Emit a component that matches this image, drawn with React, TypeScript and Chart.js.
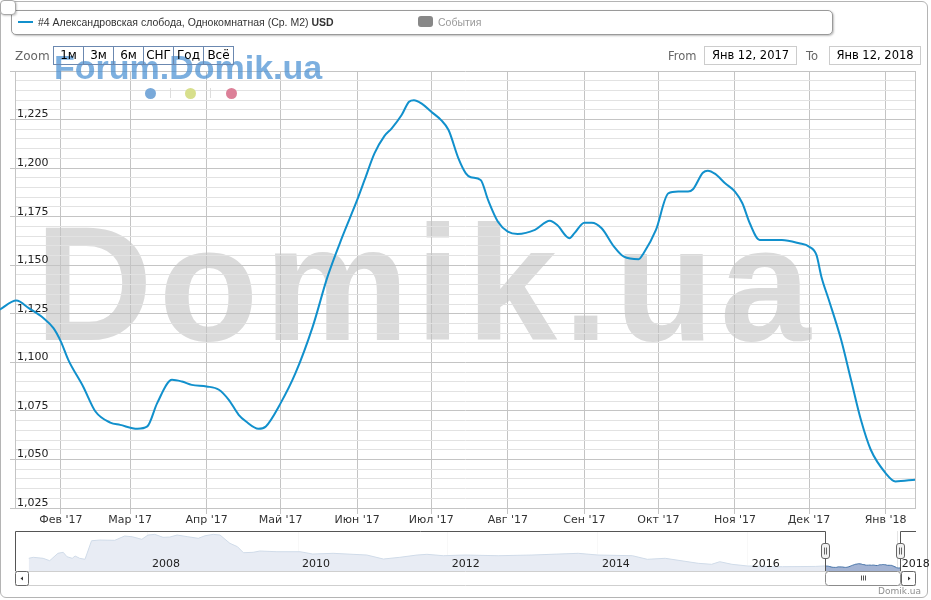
import React, { useEffect, useRef } from 'react';
import { Chart, registerables } from 'chart.js';
Chart.register(...registerables);

// ---------- text ----------
const seriesName = '#4 Александровская слобода, Однокомнатная (Ср. M2)';
const currency = 'USD';
const eventsLabel = 'События';
const zoomLabel = 'Zoom';
const zoomButtons = ['1м', '3м', '6м', 'СНГ', 'Год', 'Всё'];
const fromLabel = 'From';
const toLabel = 'To';
const rangeFrom = 'Янв 12, 2017';
const rangeTo = 'Янв 12, 2018';
const forumText = 'Forum.Domik.ua';
const watermarkText = 'Domik.ua';
const creditText = 'Domik.ua';

// ---------- main series (USD per m2) ----------
const mainDates = [
  '2017-01-07', '2017-01-14', '2017-01-19', '2017-01-25', '2017-01-29', '2017-02-01', '2017-02-04',
  '2017-02-10', '2017-02-15', '2017-02-21', '2017-02-25', '2017-03-04', '2017-03-08', '2017-03-12',
  '2017-03-18', '2017-03-22', '2017-03-26', '2017-04-01', '2017-04-06', '2017-04-10', '2017-04-14',
  '2017-04-17', '2017-04-22', '2017-04-25', '2017-05-01', '2017-05-07', '2017-05-14', '2017-05-20',
  '2017-05-26', '2017-06-01', '2017-06-04', '2017-06-08', '2017-06-12', '2017-06-15', '2017-06-19',
  '2017-06-22', '2017-06-24', '2017-06-27', '2017-07-01', '2017-07-05', '2017-07-08', '2017-07-12',
  '2017-07-15', '2017-07-17', '2017-07-21', '2017-07-24', '2017-07-28', '2017-08-01', '2017-08-05',
  '2017-08-12', '2017-08-18', '2017-08-21', '2017-08-26', '2017-08-28', '2017-09-01', '2017-09-04',
  '2017-09-08', '2017-09-13', '2017-09-17', '2017-09-23', '2017-09-25', '2017-09-30', '2017-10-05',
  '2017-10-09', '2017-10-13', '2017-10-15', '2017-10-19', '2017-10-21', '2017-10-24', '2017-10-28',
  '2017-11-01', '2017-11-04', '2017-11-07', '2017-11-11', '2017-11-20', '2017-11-27', '2017-12-01',
  '2017-12-04', '2017-12-06', '2017-12-09', '2017-12-14', '2017-12-18', '2017-12-22', '2017-12-26',
  '2018-01-01', '2018-01-05', '2018-01-13',
];
const mainValues = [
  1127.0, 1131.8, 1127.9, 1122.7, 1117.6, 1110.7, 1101.3,
  1087.6, 1074.7, 1069.0, 1067.8, 1065.8, 1067.0, 1079.0,
  1091.0, 1090.1, 1088.4, 1087.6, 1085.9, 1080.7, 1073.0,
  1069.5, 1065.8, 1067.0, 1079.0, 1094.4, 1118.4, 1144.1,
  1164.7, 1183.6, 1193.9, 1207.6, 1216.5, 1220.5, 1227.3,
  1234.2, 1235.0, 1233.3, 1229.0, 1224.7, 1219.6, 1205.0,
  1197.3, 1195.3, 1193.9, 1183.6, 1172.4, 1167.3, 1166.1,
  1168.2, 1172.9, 1170.7, 1163.9, 1166.5, 1171.9, 1171.9,
  1169.0, 1159.6, 1154.4, 1153.1, 1156.2, 1168.2, 1187.0,
  1187.9, 1187.9, 1189.1, 1197.6, 1198.7, 1197.0, 1192.2,
  1187.9, 1181.9, 1171.6, 1163.0, 1163.0, 1161.3, 1159.6,
  1155.3, 1144.1, 1132.2, 1111.6, 1091.0, 1070.4, 1055.0,
  1043.0, 1038.7, 1039.6,
];

// ---------- history shown in the navigator ----------
const historyDates = [
  '2006-05-30', '2006-06-21', '2006-08-08', '2006-09-09', '2006-10-19', '2006-11-14', '2006-12-02',
  '2006-12-28', '2007-01-11', '2007-02-02', '2007-02-28', '2007-04-01', '2007-05-11', '2007-07-23',
  '2007-09-09', '2007-10-16', '2007-12-02', '2008-01-01', '2008-02-03', '2008-03-14', '2008-04-16',
  '2008-05-22', '2008-07-13', '2008-09-02', '2008-10-05', '2008-11-14', '2008-12-17', '2009-02-03',
  '2009-03-12', '2009-04-10', '2009-05-27', '2009-06-29', '2009-09-20', '2010-01-11', '2010-03-14',
  '2010-06-21', '2010-12-02', '2011-02-21', '2011-05-12', '2011-08-04', '2011-09-21', '2011-12-10',
  '2012-03-25', '2012-09-02', '2013-02-14', '2013-09-27', '2014-01-01', '2014-06-18', '2014-08-30',
  '2014-11-25', '2015-05-05', '2015-07-09', '2015-08-18', '2015-10-16', '2016-01-01', '2016-06-18',
  '2016-11-25',
];
const historyValues = [
  1484, 1530, 1484, 1373, 1713, 1759, 1557,
  1484, 1589, 1484, 1438, 2292, 2324, 2311,
  2508, 2476, 2357, 2554, 2586, 2449, 2462,
  2554, 2476, 2403, 2522, 2586, 2554, 2173,
  2017, 1741, 1759, 1819, 1787, 1787, 1681,
  1713, 1635, 1451, 1530, 1635, 1667, 1603,
  1635, 1603, 1635, 1713, 1635, 1603, 1438,
  1484, 1254, 1208, 1327, 1208, 1130, 1098,
  1110,
];

// ---------- axes ----------
const monthTickDates = [
  '2017-02-01', '2017-03-01', '2017-04-01', '2017-05-01', '2017-06-01', '2017-07-01',
  '2017-08-01', '2017-09-01', '2017-10-01', '2017-11-01', '2017-12-01', '2018-01-01',
];
const monthTickLabels = [
  "Фев '17", "Мар '17", "Апр '17", "Май '17", "Июн '17", "Июл '17",
  "Авг '17", "Сен '17", "Окт '17", "Ноя '17", "Дек '17", "Янв '18",
];
const yMin = 1025;
const yMax = 1250;
const yMinorStep = 5;
const yMajorStep = 25;
const viewStart = '2017-01-13T10:00:00Z';
const viewEnd = '2018-01-12T22:00:00Z';

const navYearTicks = ['2008-01-01', '2010-01-01', '2012-01-01', '2014-01-01', '2016-01-01', '2018-01-01'];
const navYearLabels = ['2008', '2010', '2012', '2014', '2016', '2018'];
const navStart = '2006-03-24T00:00:00Z';
const navEnd = '2018-03-31T00:00:00Z';
const navYMin = 900;
const navYMax = 2740;

const toTs = (d: string) => Date.parse(d.length > 10 ? d : d + 'T00:00:00Z');
const fmt = (v: number) => v.toLocaleString('en-US');

const LINE_COLOR = '#1190cc';
const MAJOR_GRID = '#c4c4c4';
const MINOR_GRID = '#e2e2e2';

export default function App() {
  const mainRef = useRef<HTMLCanvasElement>(null);
  const navRef = useRef<HTMLCanvasElement>(null);

  useEffect(() => {
    const viewMin = toTs(viewStart);
    const viewMax = toTs(viewEnd);

    const watermark = {
      id: 'watermark',
      beforeDraw(chart: any) {
        const ctx = chart.ctx;
        ctx.save();
        ctx.font = 'bold 163px "Liberation Sans", Arial, sans-serif';
        ctx.fillStyle = '#dadada';
        ctx.textBaseline = 'alphabetic';
        try { (ctx as any).letterSpacing = '6px'; } catch (e) {}
        ctx.fillText(watermarkText, 35, 340);
        ctx.restore();
      },
      afterDraw(chart: any) {
        const { ctx, chartArea } = chart;
        ctx.save();
        ctx.strokeStyle = MAJOR_GRID;
        ctx.lineWidth = 1;
        ctx.beginPath();
        ctx.moveTo(Math.round(chartArea.right) + 0.5, chartArea.top);
        ctx.lineTo(Math.round(chartArea.right) + 0.5, chartArea.bottom);
        ctx.stroke();
        ctx.restore();
      },
    };

    const yTicks: number[] = [];
    for (let v = yMin; v <= yMax; v += yMinorStep) yTicks.push(v);
    const isMajor = (v: number) => v % yMajorStep === 0;

    const main = new Chart(mainRef.current as HTMLCanvasElement, {
      type: 'line',
      data: {
        datasets: [
          {
            data: mainDates.map((d, i) => ({ x: toTs(d), y: mainValues[i] })),
            borderColor: LINE_COLOR,
            borderWidth: 2,
            pointRadius: 0,
            fill: false,
            cubicInterpolationMode: 'monotone',
            clip: { left: 16, top: 0, right: 2, bottom: 0 } as any,
          },
        ],
      },
      options: {
        animation: false,
        responsive: false,
        maintainAspectRatio: false,
        events: [],
        layout: { padding: { top: 71, right: 16, left: 0, bottom: 0 } },
        plugins: { legend: { display: false }, tooltip: { enabled: false } },
        scales: {
          x: {
            type: 'linear',
            min: viewMin,
            max: viewMax,
            afterBuildTicks: (s: any) => {
              s.ticks = monthTickDates.map((d) => ({ value: toTs(d) }));
            },
            afterFit: (s: any) => {
              s.height = 22;
              s.paddingLeft = 0;
              s.paddingRight = 0;
            },
            ticks: {
              autoSkip: false,
              maxRotation: 0,
              minRotation: 0,
              padding: 0,
              color: '#333',
              font: { family: 'DejaVu Sans', size: 11 },
              callback: (_v: any, i: number) => monthTickLabels[i],
            },
            grid: { color: MAJOR_GRID, tickColor: MAJOR_GRID, tickLength: 6 },
            border: { display: true, color: MAJOR_GRID },
          },
          y: {
            type: 'linear',
            position: 'left',
            min: yMin,
            max: yMax,
            afterBuildTicks: (s: any) => {
              s.ticks = yTicks.map((v) => ({ value: v }));
            },
            afterFit: (s: any) => {
              s.width = 15;
              s.paddingTop = 0;
              s.paddingBottom = 0;
            },
            ticks: {
              mirror: true,
              padding: 2,
              labelOffset: -5,
              autoSkip: false,
              color: '#222',
              font: { family: 'DejaVu Sans', size: 11 },
              callback: (v: any) => (isMajor(Number(v)) && Number(v) < yMax ? fmt(Number(v)) : ''),
            },
            grid: {
              color: (c: any) => (c.tick && isMajor(c.tick.value) ? MAJOR_GRID : MINOR_GRID),
              tickColor: (c: any) => (c.tick && isMajor(c.tick.value) ? MAJOR_GRID : 'rgba(0,0,0,0)'),
              tickLength: 5,
            },
            border: { display: true, color: MAJOR_GRID },
          },
        },
      },
      plugins: [watermark],
    } as any);

    const navigatorPlugin = {
      id: 'navigatorDecor',
      afterDraw(chart: any) {
        const { ctx, chartArea } = chart;
        const xs = chart.scales.x;
        const L = chartArea.left;
        const R = chartArea.right;
        const T = chartArea.top;
        const B = chartArea.bottom;
        const selL = Math.round(xs.getPixelForValue(viewMin));
        const selR = Math.round(xs.getPixelForValue(viewMax));
        ctx.save();
        // mask outside selection
        ctx.fillStyle = 'rgba(255,255,255,0.75)';
        ctx.fillRect(L, T, selL - L, B - T);
        ctx.fillRect(selR, T, R - selR, B - T);
        // year labels
        ctx.fillStyle = '#222';
        ctx.font = '11px "DejaVu Sans"';
        ctx.textBaseline = 'alphabetic';
        xs.ticks.forEach((t: any, i: number) => {
          ctx.fillText(navYearLabels[i], xs.getPixelForValue(t.value) + 4, B - 4);
        });
        // outline
        ctx.strokeStyle = '#555';
        ctx.lineWidth = 1;
        ctx.beginPath();
        ctx.moveTo(L + 0.5, B);
        ctx.lineTo(L + 0.5, T + 0.5);
        ctx.lineTo(selL + 0.5, T + 0.5);
        ctx.lineTo(selL + 0.5, B);
        ctx.moveTo(selR + 0.5, B);
        ctx.lineTo(selR + 0.5, T + 0.5);
        ctx.lineTo(R, T + 0.5);
        ctx.stroke();
        // scrollbar track
        const sT = B + 0.5;
        const sH = 14;
        ctx.strokeStyle = '#cfcfcf';
        ctx.beginPath();
        ctx.moveTo(L, sT);
        ctx.lineTo(R, sT);
        ctx.moveTo(L, sT + sH);
        ctx.lineTo(R, sT + sH);
        ctx.stroke();
        const rr = (x: number, y: number, w: number, h: number, r: number, fill: string, stroke: string) => {
          ctx.beginPath();
          (ctx as any).roundRect(x, y, w, h, r);
          ctx.fillStyle = fill;
          ctx.fill();
          ctx.strokeStyle = stroke;
          ctx.stroke();
        };
        // thumb
        rr(selL + 0.5, sT, selR - selL, sH, 3, '#fff', '#8c8c8c');
        const cx = Math.round((selL + selR) / 2);
        ctx.strokeStyle = '#555';
        ctx.beginPath();
        for (let k = -2; k <= 2; k += 2) {
          ctx.moveTo(cx + k + 0.5, sT + 4);
          ctx.lineTo(cx + k + 0.5, sT + 9);
        }
        ctx.stroke();
        // arrow buttons
        rr(L + 0.5, sT, 13, sH, 2, '#fff', '#666');
        rr(R - 14.5, sT, 14, sH, 2, '#fff', '#666');
        ctx.fillStyle = '#333';
        ctx.beginPath();
        ctx.moveTo(L + 5.5, sT + 7);
        ctx.lineTo(L + 8, sT + 5);
        ctx.lineTo(L + 8, sT + 9);
        ctx.closePath();
        ctx.fill();
        ctx.beginPath();
        ctx.moveTo(R - 5.5, sT + 7);
        ctx.lineTo(R - 8, sT + 5);
        ctx.lineTo(R - 8, sT + 9);
        ctx.closePath();
        ctx.fill();
        // handles
        const hy = Math.round((T + B) / 2) - 7.5;
        [selL, selR].forEach((p) => {
          rr(p - 3.5, hy, 8, 15, 2.5, '#f2f2f2', '#666');
          ctx.strokeStyle = '#666';
          ctx.beginPath();
          ctx.moveTo(p - 0.5, hy + 4);
          ctx.lineTo(p - 0.5, hy + 11);
          ctx.moveTo(p + 1.5, hy + 4);
          ctx.lineTo(p + 1.5, hy + 11);
          ctx.stroke();
        });
        ctx.restore();
      },
    };

    const navData = [
      ...historyDates.map((d, i) => ({ x: toTs(d), y: historyValues[i] })),
      ...mainDates.filter((d) => toTs(d) >= viewMin).map((d) => ({ x: toTs(d), y: mainValues[mainDates.indexOf(d)] })),
    ];

    const nav = new Chart(navRef.current as HTMLCanvasElement, {
      type: 'line',
      data: {
        datasets: [
          {
            data: navData,
            borderColor: 'rgb(69,114,167)',
            borderWidth: 1,
            backgroundColor: 'rgb(163,179,211)',
            fill: 'start',
            pointRadius: 0,
            tension: 0,
          },
        ],
      },
      options: {
        animation: false,
        responsive: false,
        maintainAspectRatio: false,
        events: [],
        layout: { padding: { left: 15, right: 15, top: 6, bottom: 29 } },
        plugins: { legend: { display: false }, tooltip: { enabled: false } },
        scales: {
          x: {
            type: 'linear',
            min: toTs(navStart),
            max: toTs(navEnd),
            afterBuildTicks: (s: any) => {
              s.ticks = navYearTicks.map((d) => ({ value: toTs(d) }));
            },
            afterFit: (s: any) => {
              s.height = 0;
              s.paddingLeft = 0;
              s.paddingRight = 0;
            },
            ticks: { display: false },
            grid: { color: '#e4e4e4', drawTicks: false },
            border: { display: false },
          },
          y: { display: false, min: navYMin, max: navYMax },
        },
      },
      plugins: [navigatorPlugin],
    } as any);

    return () => {
      main.destroy();
      nav.destroy();
    };
  }, []);

  const abs = (s: React.CSSProperties): React.CSSProperties => ({ position: 'absolute', ...s });

  return (
    <div style={abs({ left: 0, top: 0, width: 931, height: 600, background: '#fff', fontFamily: '"DejaVu Sans", sans-serif', overflow: 'hidden' })}>
      <div style={abs({ left: 0, top: 1, width: 928, height: 597, border: '1px solid #b4b4b4', borderRadius: 6, boxSizing: 'border-box' })} />
      <canvas ref={mainRef} width={931} height={530} style={abs({ left: 0, top: 0, width: 931, height: 530 })} />
      <canvas ref={navRef} width={931} height={75} style={abs({ left: 0, top: 525, width: 931, height: 75 })} />

      {/* legend */}
      <div style={abs({ left: 11, top: 10, width: 822, height: 25, border: '1px solid #9a9a9a', borderRadius: 5, boxSizing: 'border-box', background: '#fff', boxShadow: '1px 1px 2px rgba(0,0,0,0.25)' })}>
        <div style={abs({ left: 6, top: 10, width: 15, height: 2, background: LINE_COLOR })} />
        <div style={abs({ left: 26, top: 3, height: 16, lineHeight: '16px', fontSize: 10.5, fontFamily: '"Liberation Sans", Arial, sans-serif', color: '#333', whiteSpace: 'nowrap' })}>
          {seriesName} <b>{currency}</b>
        </div>
        <div style={abs({ left: 406, top: 5, width: 15, height: 11, background: '#888', borderRadius: 3 })} />
        <div style={abs({ left: 426, top: 3, height: 16, lineHeight: '16px', fontSize: 10.5, fontFamily: '"Liberation Sans", Arial, sans-serif', color: '#999', whiteSpace: 'nowrap' })}>
          {eventsLabel}
        </div>
      </div>
      <div style={abs({ left: 0, top: 0, width: 16, height: 15, border: '1px solid #a8a8a8', borderRadius: 4, boxSizing: 'border-box', background: '#fff', boxShadow: '1px 1px 2px rgba(0,0,0,0.2)' })} />

      {/* watermark text */}
      <div style={abs({ left: 54, top: 50, fontSize: 34, lineHeight: '34px', fontWeight: 'bold', fontFamily: '"Liberation Sans", Arial, sans-serif', color: 'rgba(74,144,210,0.72)', whiteSpace: 'nowrap' })}>
        {forumText}
      </div>
      <div style={abs({ left: 144.5, top: 87.5, width: 11, height: 11, borderRadius: '50%', background: '#79a9d9' })} />
      <div style={abs({ left: 170, top: 88, width: 1, height: 10, background: '#ddd' })} />
      <div style={abs({ left: 184.5, top: 87.5, width: 11, height: 11, borderRadius: '50%', background: '#d7df8c' })} />
      <div style={abs({ left: 210, top: 88, width: 1, height: 10, background: '#ddd' })} />
      <div style={abs({ left: 225.5, top: 87.5, width: 11, height: 11, borderRadius: '50%', background: '#dc8098' })} />

      {/* range selector */}
      <div style={abs({ left: 15, top: 47, height: 18, lineHeight: '18px', fontSize: 12, color: '#666' })}>{zoomLabel}</div>
      {zoomButtons.map((b, i) => (
        <div key={b} style={abs({ left: 53 + 30 * i, top: 46, width: 31, height: 19, border: '1px solid #6b88b0', boxSizing: 'border-box', textAlign: 'center', lineHeight: '17px', fontSize: 12, color: '#000' })}>
          {b}
        </div>
      ))}
      <div style={abs({ left: 668, top: 47, height: 18, lineHeight: '18px', fontSize: 11.5, color: '#666' })}>{fromLabel}</div>
      <div style={abs({ left: 704, top: 46, width: 93, height: 19, border: '1px solid #cccccc', boxSizing: 'border-box', textAlign: 'center', lineHeight: '17px', fontSize: 11.5, color: '#000', background: '#fff' })}>{rangeFrom}</div>
      <div style={abs({ left: 806, top: 47, height: 18, lineHeight: '18px', fontSize: 11.5, color: '#666' })}>{toLabel}</div>
      <div style={abs({ left: 829, top: 46, width: 92, height: 19, border: '1px solid #cccccc', boxSizing: 'border-box', textAlign: 'center', lineHeight: '17px', fontSize: 11.5, color: '#000', background: '#fff' })}>{rangeTo}</div>

      {/* credits */}
      <div style={abs({ right: 10, top: 585, height: 12, lineHeight: '12px', fontSize: 9, color: '#909090' })}>{creditText}</div>
    </div>
  );
}
